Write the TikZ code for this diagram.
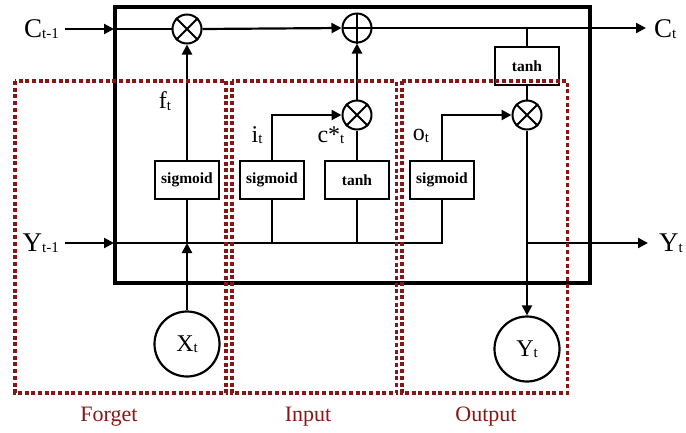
\documentclass[tikz,border=0pt]{standalone}
\usepackage{fontspec}
\setmainfont{Liberation Serif}
\usetikzlibrary{arrows.meta}
\definecolor{dred}{RGB}{135,22,22}
\newcommand{\sbs}[1]{\raisebox{-1.5pt}{\fontsize{15}{15}\selectfont #1}}
\newcommand{\bigtxt}[2]{{\fontsize{#1}{#1}\selectfont #2}}
\begin{document}
\begin{tikzpicture}[x=1pt,y=-1pt,
  ln/.style={line width=2.2pt},
  arr/.style={line width=2.2pt,-{Triangle[length=10pt,width=10pt]}},
  opc/.style={circle,draw,line width=2pt,minimum size=29pt,inner sep=0pt},
  xl/.style={line width=2pt},
  fbox/.style={draw,line width=2.6pt,minimum width=64pt,minimum height=38pt,inner sep=0pt,font=\bfseries\fontsize{15.5}{15.5}\selectfont},
  vcirc/.style={circle,draw,line width=2.2pt,minimum size=65pt,inner sep=0pt},
  gate/.style={draw=dred,line width=3.6pt,dash pattern=on 4pt off 2.7pt},
  glab/.style={text=dred,font=\fontsize{22}{22}\selectfont},
  lab/.style={inner sep=0pt,font=\fontsize{27}{27}\selectfont},
  slab/.style={inner sep=0pt,font=\fontsize{24}{24}\selectfont}]
\useasboundingbox (0,0) rectangle (686,432);
% main box
\node[draw,line width=3.8pt,minimum width=475pt,minimum height=276pt,inner sep=0pt] (cell) at (352.5,145) {};
% operators
\node[opc] (m1) at (187,29) {};
\draw[xl] (m1.north west) -- (m1.south east) (m1.north east) -- (m1.south west);
\node[opc] (pl) at (357,28) {};
\draw[xl] (pl.north) -- (pl.south) (pl.west) -- (pl.east);
\node[opc] (m2) at (357,115) {};
\draw[xl] (m2.north west) -- (m2.south east) (m2.north east) -- (m2.south west);
\node[opc] (m3) at (527,115) {};
\draw[xl] (m3.north west) -- (m3.south east) (m3.north east) -- (m3.south west);
% function boxes
\node[fbox] (sf) at (187,180) {sigmoid};
\node[fbox] (si) at (272,180) {sigmoid};
\node[fbox] (th) at (357,180) {tanh};
\node[fbox] (so) at (442,180) {sigmoid};
\node[fbox] (tc) at (527,66) {tanh};
% circles
\node[vcirc] (xt) at (187,344) {\bigtxt{24}{X}\sbs{t}};
\node[vcirc] (yt) at (527,349) {\bigtxt{24}{Y}\sbs{t}};
% labels
\node[lab,anchor=east] (cin) at (59,29) {C\sbs{t-1}};
\node[lab,anchor=east] (yin) at (59,243) {Y\sbs{t-1}};
\node[lab,anchor=west] (cout) at (654,29) {C\sbs{t}};
\node[lab,anchor=west] (yout) at (659,243) {Y\sbs{t}};
\node[slab] (ft) at (165,101) {f\sbs{t}};
\node[slab] (it) at (257,135) {i\sbs{t}};
\node[slab] (ct) at (331,135) {c*\sbs{t}};
\node[slab] (ot) at (421,136) {o\sbs{t}};
% coordinates
\coordinate (cinE) at (65,29);
\coordinate (cinB) at (114,29);
\coordinate (coutE) at (646,28);
\coordinate (yinE) at (65,243);
\coordinate (yinB) at (114,243);
\coordinate (yend) at (443,243);
\coordinate (ybr) at (527,243);
\coordinate (youtE) at (648,243);
\coordinate (xj) at (187,243);
\coordinate (ij) at (272,243);
\coordinate (tj) at (357,243);
\coordinate (oj) at (442,243);
\coordinate (tcj) at (527,28);
% cell state line
\draw[arr] (cinE) -- (cinB);
\draw[ln] (cinB) -- (m1.west);
\draw[arr] (m1.east) -- (pl.west);
\draw[arr] (pl.east) -- (coutE);
\draw[ln] (tcj) -- (tc.north);
\draw[ln] (tc.south) -- (m3.north);
\draw[arr] (m3.south) -- (yt.north);
\draw[arr] (ybr) -- (youtE);
% hidden line
\draw[arr] (yinE) -- (yinB);
\draw[ln] (yinB) -- (yend);
\draw[arr] (xt.north) -- (xj);
\draw[ln] (xj) -- (sf.south);
\draw[ln] (ij) -- (si.south);
\draw[ln] (tj) -- (th.south);
\draw[ln] (oj) -- (so.south);
% gates
\draw[arr] (sf.north) -- (m1.south);
\draw[arr] (si.north) |- (m2.west);
\draw[ln] (th.north) -- (m2.south);
\draw[arr] (m2.north) -- (pl.south);
\draw[arr] (so.north) |- (m3.west);
% dotted regions
\draw[gate] (15,81) rectangle (226,393);
\draw[gate] (232,81) rectangle (396.5,393);
\draw[gate] (402,81) rectangle (567.5,393);
\node[glab] (gf) at (109,417) {Forget};
\node[glab] (gi) at (308,417) {Input};
\node[glab] (go) at (486,417) {Output};
\end{tikzpicture}
\end{document}
